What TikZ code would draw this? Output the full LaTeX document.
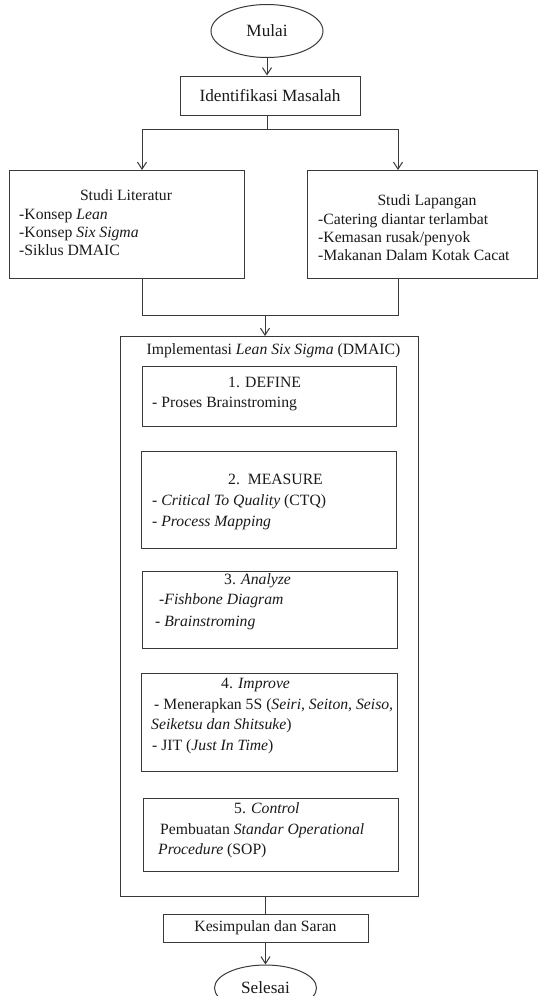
\documentclass[tikz,border=0pt]{standalone}
\usepackage{fontspec}
\setmainfont{Liberation Serif}
\usetikzlibrary{arrows.meta,shapes.geometric}
\definecolor{lc}{HTML}{3A3A3A}
\definecolor{tc}{HTML}{1A1A1A}
\newcommand{\fsm}{\fontsize{15.7}{18}\selectfont}
\newcommand{\fsl}{\fontsize{17.2}{20}\selectfont}
\tikzset{
  ln/.style={draw=lc, line width=1pt},
  boxnw/.style={draw=lc, line width=1pt, inner sep=0pt, anchor=north west},
  arr/.style={draw=lc, line width=1pt, -{Straight Barb[length=7pt,width=9pt,line width=1pt]}},
  txt/.style={inner sep=0pt, anchor=mid west, font=\fsm, text=tc},
  ctxt/.style={inner sep=0pt, anchor=mid, font=\fsm, text=tc},
  term/.style={ellipse, draw=lc, line width=1pt, inner sep=0pt, font=\fsl, text=tc},
}
\begin{document}
\begin{tikzpicture}[x=1pt,y=-1pt]
\useasboundingbox (0,0) rectangle (539,996);
\fill[white] (0,0) rectangle (539,996);

% terminals and single-line boxes
\node[term, minimum width=112pt, minimum height=53pt] (mulai) at (267,31) {Mulai};
\node[draw=lc, line width=1pt, inner sep=0pt, minimum width=180pt, minimum height=39pt, font=\fsl, text=tc] (ident) at (270,95.5) {Identifikasi Masalah};

% study boxes
\node[boxnw, minimum width=235pt, minimum height=108pt] (lit) at (9,170) {};
\node[boxnw, minimum width=230pt, minimum height=108pt] (lap) at (307,170) {};

\node[ctxt] (litT) at (126,198) {Studi Literatur};
\node[txt] (lit1) at (19,217) {-Konsep \textit{Lean}};
\node[txt] (lit2) at (19,235) {-Konsep \textit{Six Sigma}};
\node[txt] (lit3) at (19,253) {-Siklus DMAIC};

\node[ctxt] (lapT) at (427,203) {Studi Lapangan};
\node[txt] (lap1) at (318,222) {-Catering diantar terlambat};
\node[txt] (lap2) at (318,240) {-Kemasan rusak/penyok};
\node[txt] (lap3) at (318,258) {-Makanan Dalam Kotak Cacat};

% implementation box
\node[boxnw, minimum width=298pt, minimum height=560pt] (impl) at (120,336) {};
\node[ctxt] (implT) at (273.5,352) {Implementasi \textit{Lean Six Sigma} (DMAIC)};

\node[boxnw, minimum width=254pt, minimum height=60pt] (def) at (142,366) {};
\node[txt] (defT) at (228,385) {1. DEFINE};
\node[txt] (def1) at (152,405) {- Proses Brainstroming};

\node[boxnw, minimum width=255pt, minimum height=97pt] (mea) at (141,451) {};
\node[txt] (meaT) at (228,482) {2.\ \ MEASURE};
\node[txt] (mea1) at (152,503) {- \textit{Critical To Quality} (CTQ)};
\node[txt] (mea2) at (152,524) {- \textit{Process Mapping}};

\node[boxnw, minimum width=255pt, minimum height=77pt] (ana) at (142,571) {};
\node[txt] (anaT) at (224,582) {3. \textit{Analyze}};
\node[txt] (ana1) at (159,602) {-\textit{Fishbone Diagram}};
\node[txt] (ana2) at (155,624) {- \textit{Brainstroming}};

\node[boxnw, minimum width=256pt, minimum height=98pt] (imp) at (141,673) {};
\node[txt] (impT) at (221,686) {4. \textit{Improve}};
\node[txt] (imp1) at (154,707) {- Menerapkan 5S (\textit{Seiri, Seiton, Seiso,}};
\node[txt] (imp2) at (151,727) {\textit{Seiketsu dan Shitsuke})};
\node[txt] (imp3) at (152,748) {- JIT (\textit{Just In Time})};

\node[boxnw, minimum width=255pt, minimum height=73pt] (con) at (143,798) {};
\node[txt] (conT) at (234,811) {5. \textit{Control}};
\node[txt] (con1) at (160,832) {Pembuatan \textit{Standar Operational}};
\node[txt] (con2) at (158,852) {\textit{Procedure} (SOP)};

% conclusion and end
\node[draw=lc, line width=1pt, inner sep=0pt, minimum width=205pt, minimum height=28pt, font=\fsm, text=tc] (kes) at (265.5,928) {Kesimpulan dan Saran};
\node[term, minimum width=102pt, minimum height=46pt] (sel) at (265.5,988) {Selesai};

% connectors
\coordinate (split) at (267,129);
\coordinate (sl) at (142,129);
\coordinate (sr) at (398,129);
\coordinate (ml) at (142,315);
\coordinate (mr) at (398,315);
\coordinate (mc) at (265,315);

\draw[arr] (mulai.south) -- (mulai.south |- ident.north);
\draw[ln] (ident.south -| split) -- (split);
\draw[ln] (sl) -- (sr);
\draw[arr] (sl) -- (sl |- lit.north);
\draw[arr] (sr) -- (sr |- lap.north);
\draw[ln] (lit.south -| ml) -- (ml) -- (mr) -- (lap.south -| mr);
\draw[arr] (mc) -- (mc |- impl.north);
\draw[ln] (impl.south -| kes.north) -- (kes.north);
\draw[arr] (kes.south) -- (sel.north);
\end{tikzpicture}
\end{document}
